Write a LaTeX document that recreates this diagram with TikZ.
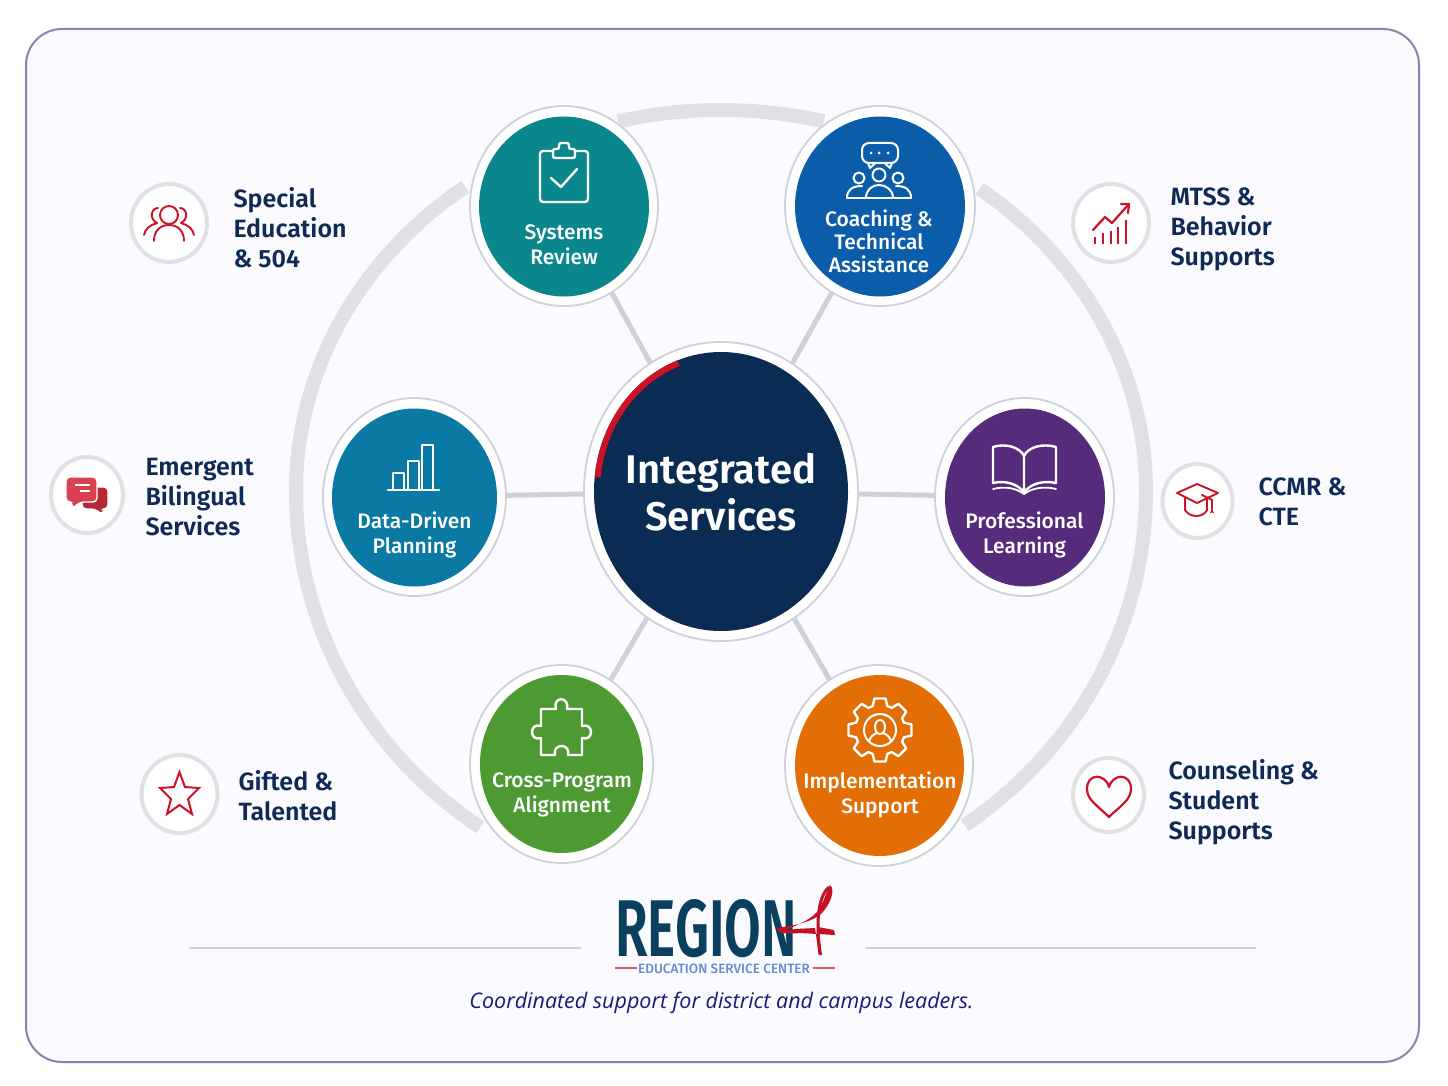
\documentclass[tikz,border=0pt]{standalone}
\usepackage{fontspec}
\usepackage{graphicx}
\usetikzlibrary{shapes.geometric}
\setmainfont{Noto Sans}
\newfontfamily\labfont{Fira Sans}[UprightFont=* Medium,BoldFont=* SemiBold]
\newfontfamily\capfont{Open Sans}
\definecolor{navy}{HTML}{0A2C52}
\definecolor{txtnavy}{HTML}{0E2A55}
\definecolor{redA}{HTML}{CF1126}
\definecolor{teal1}{HTML}{0A878C}
\definecolor{blue1}{HTML}{0B5CA9}
\definecolor{data1}{HTML}{0A79A3}
\definecolor{purp1}{HTML}{552B7C}
\definecolor{green1}{HTML}{4D9A33}
\definecolor{orange1}{HTML}{E36E05}
\definecolor{ring}{HTML}{E0E1E5}
\definecolor{halo}{HTML}{CFD1D8}
\tikzset{
  sweep/.style={draw=ring,line width=14pt,line cap=butt},
  link/.style={draw=halo,line width=5pt},
  oval/.style={ellipse,inner sep=0pt,outer sep=0pt},
  haloring/.style={oval,draw=halo,line width=1.8pt,fill=white},
  disc/.style={oval},
  badge/.style={oval,draw=ring,line width=4pt,fill=white},
  sattext/.style={align=center,text=white,font=\labfont\fontsize{21}{25}\selectfont},
  sidetext/.style={align=left,anchor=west,text=txtnavy,font=\labfont\fontsize{25}{30}\selectfont\bfseries},
  wicon/.style={draw=white,line width=2.4pt,line join=round,line cap=round},
  ricon/.style={draw=redA,line width=2.2pt,line join=round,line cap=round},
  rule/.style={draw=halo,line width=1.6pt}
}
\begin{document}
\begin{tikzpicture}[x=1pt,y=-1pt]
\useasboundingbox (0,0) rectangle (1448,1086);
\fill[white] (0,0) rectangle (1448,1086);
\draw[draw=black!30!ring!85!blue,line width=2pt,fill=white!98!blue,rounded corners=36pt] (26,29) rectangle (1419,1062);
% outer sweep
\draw[sweep] plot[domain=127:180,samples=60,smooth] ({721+425*cos(\x)},{491-381*sin(\x)})
  -- plot[domain=180:235.5,samples=60,smooth] ({721+425*cos(\x)},{491-408*sin(\x)});
\draw[sweep] plot[domain=52.5:0,samples=60,smooth] ({721+425*cos(\x)},{491-381*sin(\x)})
  -- plot[domain=0:-55,samples=60,smooth] ({721+425*cos(\x)},{491-408*sin(\x)});
\draw[sweep] plot[domain=104:76,samples=40,smooth] ({721+425*cos(\x)},{491-381*sin(\x)});
% halo nodes
\node[haloring,minimum width=274pt,minimum height=299pt] (main) at (721,491.5) {};
\node[haloring,minimum width=188pt,minimum height=200pt] (sys) at (564,206) {};
\node[haloring,minimum width=190pt,minimum height=200pt] (coach) at (880,206) {};
\node[haloring,minimum width=183pt,minimum height=198pt] (data) at (414.5,497) {};
\node[haloring,minimum width=179pt,minimum height=198pt] (prof) at (1024.5,497) {};
\node[haloring,minimum width=183pt,minimum height=198pt] (cross) at (561.5,764) {};
\node[haloring,minimum width=188pt,minimum height=201pt] (impl) at (879,765.5) {};
% connectors
\draw[link] (main) -- (sys);
\draw[link] (main) -- (coach);
\draw[link] (main) -- (data);
\draw[link] (main) -- (prof);
\draw[link] (main) -- (cross);
\draw[link] (main) -- (impl);
% discs
\node[disc,fill=navy,minimum width=254pt,minimum height=279pt] (mainD) at (721,491.5) {};
\node[disc,fill=teal1,minimum width=170pt,minimum height=180pt] (sysD) at (564,206.5) {};
\node[disc,fill=blue1,minimum width=170pt,minimum height=180pt] (coachD) at (880,206.5) {};
\node[disc,fill=data1,minimum width=165pt,minimum height=178pt] (dataD) at (414.5,497.5) {};
\node[disc,fill=purp1,minimum width=160pt,minimum height=178pt] (profD) at (1025,497.5) {};
\node[disc,fill=green1,minimum width=163pt,minimum height=178pt] (crossD) at (561.5,764) {};
\node[disc,fill=orange1,minimum width=169pt,minimum height=181pt] (implD) at (879.5,765.5) {};
\draw[draw=redA,line width=6pt] plot[domain=174:110,samples=40,smooth] ({721+124*cos(\x)},{491.5-136.5*sin(\x)});
% central text
\node[align=center,text=white,font=\labfont\fontsize{40}{47}\selectfont\bfseries] (mainT) at (721,492) {Integrated\\Services};
% satellite text
\node[sattext] (sysT) at (564,244.5) {Systems\\Review};
\node[sattext,font=\labfont\fontsize{21}{23}\selectfont] (coachT) at (879,241) {Coaching \&\\Technical\\Assistance};
\node[sattext] (dataT) at (414.5,534.5) {Data-Driven\\Planning};
\node[sattext] (profT) at (1024.5,534.5) {Professional\\Learning};
\node[sattext] (crossT) at (562,794.5) {Cross-Program\\Alignment};
\node[sattext] (implT) at (880,794.5) {Implementation\\Support};
% clipboard
\draw[wicon,rounded corners=3pt] (553,151) -- (540,151) -- (540,202) -- (588,202) -- (588,151) -- (575,151);
\draw[wicon,rounded corners=2pt] (553,158) -- (553,149) -- (559,149) -- (559,143) -- (569,143) -- (569,149) -- (575,149) -- (575,158) -- cycle;
\draw[wicon] (551,178) -- (561,187) -- (577,169);
% coaching icon
\draw[wicon,line width=2pt,rounded corners=7pt] (862,143) rectangle (898,163);
\fill[white] (871,153) circle (1.5) (879,153) circle (1.5) (888,153) circle (1.5);
\draw[wicon,line width=2pt] (868,163) -- (870,168) -- (875,163.5) (892,163) -- (890,168) -- (885,163.5);
\draw[wicon,line width=2pt] (879,175) circle (6.5) (859,178) circle (5.5) (898,178) circle (5.5);
\draw[wicon,line width=2pt] (847,198) -- (911,198);
\draw[wicon,line width=2pt] (866,198) .. controls (866,190) and (872,185) .. (879,185) .. controls (886,185) and (893,190) .. (893,198);
\draw[wicon,line width=2pt] (847,198) .. controls (847,190) and (852,186) .. (862,186);
\draw[wicon,line width=2pt] (911,198) .. controls (911,190) and (906,186) .. (896,186);
% bars
\draw[wicon] (388,490) -- (439,490);
\draw[wicon] (393,490) -- (393,473) -- (404,473) -- (404,490) (408,490) -- (408,461) -- (419,461) -- (419,490) (422,490) -- (422,445) -- (433,445) -- (433,490);
% book
\draw[wicon] (1024,456) .. controls (1020,447) and (1005,443) .. (993,447) -- (993,483) .. controls (1005,480) and (1019,484) .. (1024,493)
  .. controls (1029,484) and (1043,480) .. (1056,483) -- (1056,447) .. controls (1043,443) and (1028,447) .. (1024,456) -- (1024,493);
\draw[wicon,line width=1.8pt] (993,489) .. controls (1005,486) and (1016,488) .. (1024,494) .. controls (1032,488) and (1044,486) .. (1056,489);
% puzzle
\draw[wicon] (541,709) -- (556,709) .. controls (552,696) and (570,696) .. (567,709) -- (582,709) -- (582,726)
  .. controls (594,722) and (594,742) .. (582,738) -- (582,755) -- (568,755) .. controls (571,743) and (552,743) .. (555,755)
  -- (541,755) -- (541,738) .. controls (529,742) and (529,722) .. (541,726) -- cycle;
% gear
\begin{scope}[shift={(880,730)}]
\foreach \a in {0,45,...,315}{
  \draw[wicon] (\a-17:25) -- (\a-10:32) -- (\a+10:32) -- (\a+17:25) -- (\a+28:25);
}
\draw[wicon,line width=2pt] (0,0) circle (16);
\draw[wicon,line width=2pt] (0,-3) ellipse (5 and 7);
\draw[wicon,line width=2pt] (-11,11) .. controls (-9,5) and (-5,4) .. (-3,3) (11,11) .. controls (9,5) and (5,4) .. (3,3);
\end{scope}
% side badges
\node[badge,minimum width=76pt,minimum height=78pt] (b1) at (169,223) {};
\node[badge,minimum width=72pt,minimum height=76pt] (b2) at (87,495) {};
\node[badge,minimum width=76pt,minimum height=78pt] (b3) at (179.5,794) {};
\node[badge,minimum width=76pt,minimum height=78pt] (b4) at (1111,223) {};
\node[badge,minimum width=70pt,minimum height=74pt] (b5) at (1197.5,501) {};
\node[badge,minimum width=71pt,minimum height=74pt] (b6) at (1108.5,795) {};
% people icon
\draw[ricon,line width=1.9pt] (169,215) circle (9);
\draw[ricon,line width=1.9pt] (154,241) .. controls (154,231) and (160,225) .. (169,225) .. controls (178,225) and (184,231) .. (184,241);
\draw[ricon,line width=1.9pt] (158,208) .. controls (151,208) and (149,219) .. (157,223) .. controls (150,225) and (145,229) .. (144,235);
\draw[ricon,line width=1.9pt] (180,208) .. controls (187,208) and (189,219) .. (181,223) .. controls (188,225) and (193,229) .. (194,235);
% chat icon
\fill[fill=redA!85!black!90!white,draw=white,line width=1.4pt,rounded corners=4pt] (82,487) -- (108,487) -- (108,509) -- (103,509) -- (103,515) -- (95,509) -- (82,509) -- cycle;
\fill[fill=redA!80!white,draw=white,line width=1.4pt,rounded corners=4pt] (66,477) -- (97,477) -- (97,502) -- (80,502) -- (72,509) -- (72,502) -- (66,502) -- cycle;
\draw[white,line width=1.3pt] (75,485) -- (90,485) (80,491) -- (90,491);
% trend icon
\draw[redA,line width=2.6pt] (1095,244) -- (1095,237) (1103,244) -- (1103,233) (1111,244) -- (1111,231) (1118,244) -- (1118,227) (1126,244) -- (1126,220);
\draw[ricon] (1093,230) -- (1105,217) -- (1112,223) -- (1129,204);
\draw[ricon] (1121,204) -- (1129,204) -- (1128,213);
% cap icon
\draw[ricon,line width=1.9pt] (1177,493) -- (1197,484) -- (1218,493) -- (1197,503) -- cycle;
\draw[ricon,line width=1.9pt] (1185,498) -- (1185,510) .. controls (1190,518) and (1203,518) .. (1207,510) -- (1207,499);
\draw[ricon,line width=1.9pt] (1202,495) -- (1212,500) -- (1212,509);
\fill[redA] (1212,508) -- (1214.5,515) arc (0:-180:2.5) -- cycle;
% star
\draw[ricon,line width=2pt,line cap=butt,line join=miter] (179.5,772) -- (185,787) -- (199,788) -- (188,799) -- (192,814) -- (179.5,805) -- (167,814) -- (171,799) -- (160,788) -- (174,787) -- cycle;
% heart
\draw[ricon] (1109,817) .. controls (1098,806) and (1087,800) .. (1087,789) .. controls (1087,773) and (1105,773) .. (1109,787) .. controls (1113,773) and (1131,773) .. (1131,789) .. controls (1131,800) and (1120,806) .. (1109,817) -- cycle;
% side text
\node[sidetext] (t1) at (230,228) {Special\\Education\\\& 504};
\node[sidetext] (t2) at (142,497.5) {Emergent\\Bilingual\\Services};
\node[sidetext] (t3) at (235,796) {Gifted \&\\Talented};
\node[sidetext] (t4) at (1167,229) {MTSS \&\\Behavior\\Supports};
\node[sidetext] (t5) at (1255,501.5) {CCMR \&\\CTE};
\node[sidetext] (t6) at (1165,802.5) {Counseling \&\\Student\\Supports};
% footer rules
\coordinate (r1a) at (189,948); \coordinate (r1b) at (581,948);
\coordinate (r2a) at (866,948); \coordinate (r2b) at (1256,948);
\draw[rule] (r1a) -- (r1b);
\draw[rule] (r2a) -- (r2b);
% logo
\node[inner sep=0pt,anchor=north west,text=black!10!teal1!25!navy] (logo) at (615,899) {\resizebox{182pt}{57pt}{\labfont\bfseries REGION}};
\fill[redA!95!black] (830,885) .. controls (836,890) and (830,905) .. (821,914) .. controls (808,924) and (790,926) .. (777,928)
  .. controls (776,934) and (790,934) .. (800,933) -- (835,935) -- (834,930) -- (818,927) -- (822,955) -- (819,955)
  -- (815,928) -- (795,929) -- (785,931) .. controls (795,925) and (808,922) .. (817,912) .. controls (824,903) and (826,892) .. (830,885) -- cycle;
\draw[redA!95!black,line width=3pt] (829,887) .. controls (820,895) and (815,915) .. (820,954);
\draw[redA!70!white,line width=1.8pt] (615,968) -- (637,968) (813,968) -- (835,968);
\node[text=cyan!45!blue!65!white,font=\labfont\fontsize{13.5}{15}\selectfont] (esc) at (724,969) {EDUCATION SERVICE CENTER};
\node[text=black!58!blue!90!white,font=\capfont\itshape\fontsize{21.5}{25}\selectfont] (cap) at (721.5,1003) {Coordinated support for district and campus leaders.};
\end{tikzpicture}
\end{document}
